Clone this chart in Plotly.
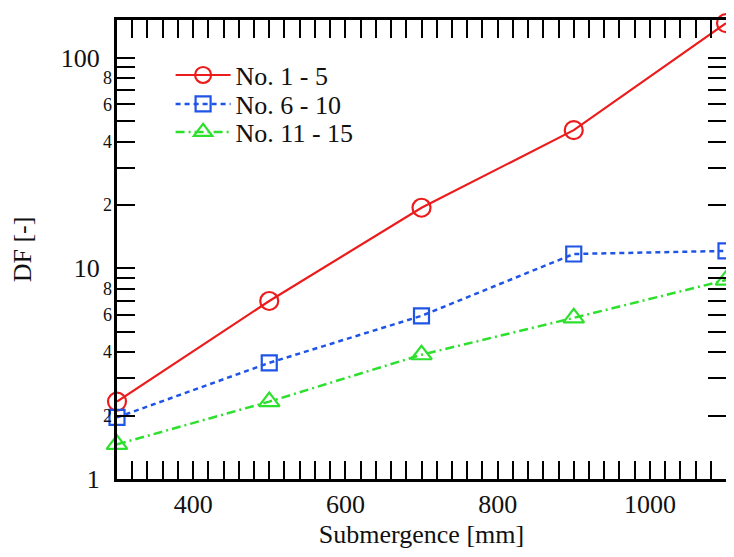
import math
import plotly.graph_objects as go

# Submergence [mm] and DF values
submergence = [300, 500, 700, 900, 1100]
df_no1_5 = [2.33, 7.0, 19.4, 45.3, 146]
df_no6_10 = [1.96, 3.56, 5.95, 11.7, 12.1]
df_no11_15 = [1.46, 2.33, 3.89, 5.82, 8.8]

series_names = ["No. 1 - 5", "No. 6 - 10", "No. 11 - 15"]

y_major = [1, 10, 100]
y_labeled_minor = [2, 4, 6, 8, 20, 40, 60, 80]
y_minor = [2, 3, 4, 5, 6, 7, 8, 9, 20, 30, 40, 50, 60, 70, 80, 90]
x_major = [400, 600, 800, 1000]
x_mid = [300, 500, 700, 900, 1100]

FONT = "Liberation Serif"
y_range = [0, math.log10(151)]
x_range = [300, 1100]

fig = go.Figure()

fig.add_trace(go.Scatter(
    x=submergence, y=df_no1_5, name=series_names[0], mode="lines+markers",
    line=dict(color="#ec1c1c", width=2.2),
    marker=dict(symbol="circle-open", size=18, color="#ec1c1c", line=dict(width=2.2)),
    cliponaxis=False, legend="legend",
))
fig.add_trace(go.Scatter(
    x=submergence, y=df_no6_10, name=series_names[1], mode="lines+markers",
    line=dict(color="#1f55e6", width=2.5, dash="5px,4px"),
    marker=dict(symbol="square-open", size=15, color="#1f55e6", line=dict(width=2.2)),
    cliponaxis=False, legend="legend2",
))
fig.add_trace(go.Scatter(
    x=submergence, y=df_no11_15, name=series_names[2], mode="lines+markers",
    line=dict(color="#2ee02e", width=2.5, dash="9px,4px,2px,4px"),
    marker=dict(symbol="triangle-up-open", size=18, color="#2ee02e", line=dict(width=2.2)),
    cliponaxis=False, legend="legend3",
))

# dummy traces so the overlay axes (extra tick sets) get drawn
fig.add_trace(go.Scatter(x=[None], y=[None], xaxis="x2", yaxis="y", showlegend=False, hoverinfo="skip"))
fig.add_trace(go.Scatter(x=[None], y=[None], xaxis="x", yaxis="y2", showlegend=False, hoverinfo="skip"))

def leg(ytop):
    return dict(
        x=0.088, y=ytop, xanchor="left", yanchor="middle",
        bgcolor="rgba(0,0,0,0)", font=dict(size=26, family=FONT, color="#111"),
        itemwidth=55,
    )

# page body has an 8px margin, so the figure is 16px smaller than the window
fig.update_layout(
    width=718, height=541,
    margin=dict(l=109, r=0, t=12, b=70),
    paper_bgcolor="white", plot_bgcolor="white",
    font=dict(family=FONT, size=26, color="#111"),
    showlegend=True,
    legend=leg(0.88), legend2=leg(0.817), legend3=leg(0.756),
    xaxis=dict(
        range=x_range, tickvals=x_major, ticks="inside", ticklen=18, tickwidth=2,
        tickcolor="black", showline=True, linewidth=3, linecolor="black",
        mirror="allticks", showgrid=False, zeroline=False, automargin=False,
        tickfont=dict(size=26, family=FONT),
        minor=dict(dtick=20, tick0=300, ticks="inside", ticklen=9, tickwidth=2, tickcolor="black", showgrid=False),
        title=dict(text="Submergence [mm]", font=dict(size=26, family=FONT), standoff=16),
    ),
    xaxis2=dict(
        range=x_range, overlaying="x", anchor="y", side="bottom",
        tickvals=x_mid, ticks="inside", ticklen=14, tickwidth=2, tickcolor="black",
        mirror="allticks", showline=False, showgrid=False, zeroline=False,
        showticklabels=False, automargin=False,
    ),
    yaxis=dict(
        type="log", range=y_range, tickvals=y_major, ticktext=[str(v) for v in y_major],
        ticks="inside", ticklen=18, tickwidth=2, tickcolor="black",
        showline=True, linewidth=3, linecolor="black", mirror="allticks",
        showgrid=False, zeroline=False, ticklabelstandoff=9, automargin=False,
        tickfont=dict(size=26, family=FONT),
        minor=dict(tickvals=y_minor, ticks="inside", ticklen=10, tickwidth=2, tickcolor="black", showgrid=False),
        title=dict(text="DF [-]", font=dict(size=26, family=FONT), standoff=22),
    ),
    yaxis2=dict(
        type="log", range=y_range, overlaying="y", anchor="x", side="left",
        tickvals=y_labeled_minor, ticktext=[str(v)[0] for v in y_labeled_minor],
        ticks="", showline=False, showgrid=False, zeroline=False, automargin=False,
        ticklabelstandoff=4, tickfont=dict(size=18, family=FONT),
    ),
)

fig.write_html("out.html")
